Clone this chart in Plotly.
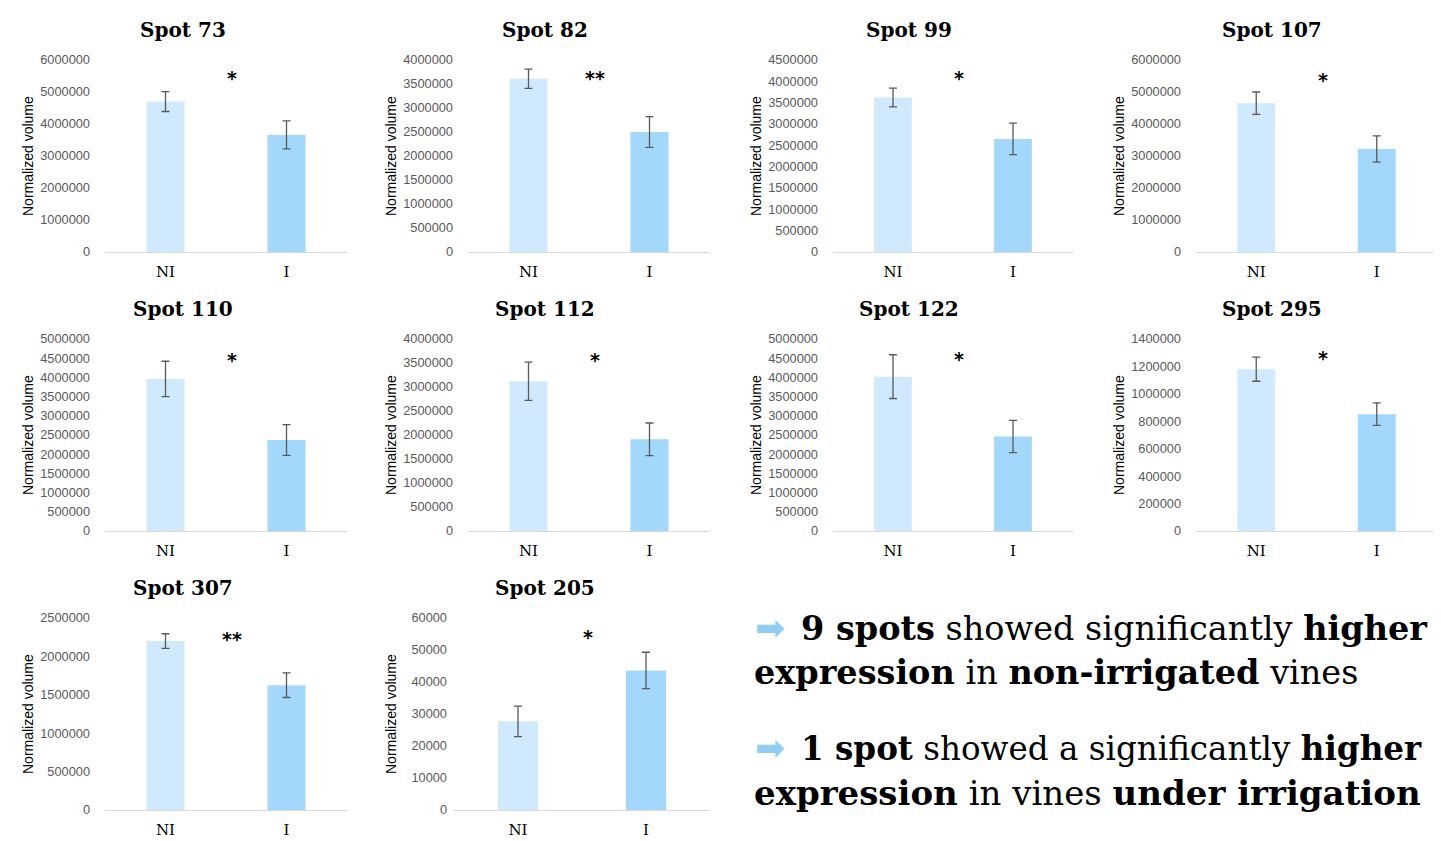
import plotly.graph_objects as go

# ---------------- data ----------------
spots = ["Spot 73", "Spot 82", "Spot 99", "Spot 107", "Spot 110",
         "Spot 112", "Spot 122", "Spot 295", "Spot 307", "Spot 205"]
categories = ["NI", "I"]
ni_mean = [4700000, 3610000, 3620000, 4650000, 3960000, 3120000, 4020000, 1180000, 2200000, 27700]
ni_err = [310000, 200000, 220000, 350000, 460000, 400000, 570000, 88000, 95000, 4750]
i_mean = [3660000, 2500000, 2650000, 3220000, 2370000, 1910000, 2460000, 852000, 1625000, 43600]
i_err = [440000, 320000, 370000, 410000, 400000, 340000, 420000, 82000, 160000, 5700]
significance = ["*", "**", "*", "*", "*", "*", "*", "*", "**", "*"]
star_y = [5520000, 3680000, 4140000, 5470000, 4540000, 3630000, 4560000, 1287000, 2270000, 55100]
axis_max = [6000000, 4000000, 4500000, 6000000, 5000000, 4000000, 5000000, 1400000, 2500000, 60000]
axis_step = [1000000, 500000, 500000, 1000000, 500000, 500000, 500000, 200000, 500000, 10000]
y_title = "Normalized volume"

# ---------------- layout helpers (target pixels in the page) ----------------
OFF = 8  # default body margin of the html page
W, H = 1441 - OFF, 841 - OFF
col_dom = [(105, 347), (468, 710), (833, 1073), (1196, 1437)]
row_dom = [(60, 252), (339, 531), (618, 810)]
title_x = [183, 545, 909, 1272]
title_y = [30, 309, 588]
C_NI = "#d0e9fc"
C_I = "#a3d8fb"


def px(x):
    return (x - OFF) / W


def py(y):
    return 1 - (y - OFF) / H


fig = go.Figure()
annotations = []
layout = {}

for k, name in enumerate(spots):
    r, c = divmod(k, 4)
    sfx = "" if k == 0 else str(k + 1)
    x0, x1 = col_dom[c]
    if name == "Spot 205":
        x0 = 454
    y_top, y_bot = row_dom[r]
    fig.add_trace(go.Bar(
        x=categories, y=[ni_mean[k], i_mean[k]],
        marker=dict(color=[C_NI, C_I], line=dict(width=0)),
        width=0.315,
        error_y=dict(type="data", array=[ni_err[k], i_err[k]], visible=True,
                     color="#595959", thickness=1.3, width=4),
        xaxis="x" + sfx, yaxis="y" + sfx, showlegend=False,
        hoverinfo="x+y",
    ))
    layout["xaxis" + sfx] = dict(
        domain=[px(x0), px(x1)], anchor="y" + sfx, range=[-0.5, 1.5],
        showline=True, linecolor="#d9d9d9", linewidth=1, ticks="",
        showgrid=False, zeroline=False, fixedrange=True,
        tickfont=dict(family="DejaVu Serif", size=15, color="#000000"),
        ticklabelstandoff=6,
    )
    layout["yaxis" + sfx] = dict(
        domain=[py(y_bot), py(y_top)], anchor="x" + sfx,
        range=[0, axis_max[k]], tick0=0, dtick=axis_step[k], tickformat="d",
        showgrid=False, zeroline=False, showline=False, ticks="",
        fixedrange=True, automargin=False,
        tickfont=dict(family="Liberation Sans", size=12.8, color="#595959"),
        ticklabelstandoff=6 if name == "Spot 205" else 14,
    )
    # subplot title
    annotations.append(dict(
        text="<b>%s</b>" % name, x=px(title_x[c]), y=py(title_y[r]),
        xref="paper", yref="paper", xanchor="center", yanchor="middle",
        showarrow=False, font=dict(family="DejaVu Serif", size=20, color="#000000"),
    ))
    # y-axis title
    annotations.append(dict(
        text=y_title, x=px(col_dom[c][0] - 77), y=py((y_top + y_bot) / 2),
        xref="paper", yref="paper", xanchor="center", yanchor="middle",
        textangle=-90, showarrow=False,
        font=dict(family="Liberation Sans", size=14, color="#000000"),
    ))
    # significance stars
    annotations.append(dict(
        text="<b>%s</b>" % significance[k], x=0.55, y=star_y[k],
        xref="x" + sfx, yref="y" + sfx, xanchor="center", yanchor="middle",
        yshift=-3, showarrow=False,
        font=dict(family="DejaVu Sans", size=19, color="#000000"),
    ))

# ---------------- right-hand text ----------------
text_lines = [
    ("<b>9 spots</b> showed significantly <b>higher</b>", 799, 628, 33.5),
    ("<b>expression</b> in <b>non-irrigated</b> vines", 752, 672, 33.5),
    ("<b>1 spot</b> showed a significantly <b>higher</b>", 799, 748, 32.6),
    ("<b>expression</b> in vines <b>under irrigation</b>", 752, 793, 34),
]
for txt, x, y, fs in text_lines:
    annotations.append(dict(
        text=txt, x=px(x), y=py(y), xref="paper", yref="paper",
        xanchor="left", yanchor="middle", showarrow=False,
        font=dict(family="DejaVu Serif", size=fs, color="#000000"),
    ))
for y in (627, 747):
    annotations.append(dict(
        text="\u27a1", x=px(753), y=py(y), xref="paper", yref="paper",
        xanchor="left", yanchor="middle", showarrow=False,
        font=dict(family="DejaVu Sans", size=36, color="#8fcdf3"),
    ))

fig.update_layout(
    width=W, height=H, margin=dict(l=0, r=0, t=0, b=0),
    paper_bgcolor="#ffffff", plot_bgcolor="#ffffff",
    annotations=annotations, showlegend=False, **layout,
)

fig.write_html("out.html")
